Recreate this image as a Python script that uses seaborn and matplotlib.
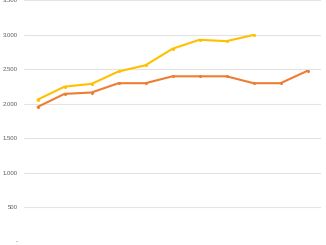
import numpy as np
import pandas as pd
import matplotlib
matplotlib.use("Agg")
import matplotlib.pyplot as plt
import seaborn as sns

categories = list(range(1, 12))
series_a = [2060, 2250, 2290, 2470, 2560, 2800, 2930, 2910, 3000]
series_b = [1955, 2145, 2165, 2300, 2300, 2400, 2400, 2400, 2300, 2300, 2480]
y_ticks = [0, 500, 1000, 1500, 2000, 2500, 3000, 3500]
y_labels = ["-", "500", "1.000", "1.500", "2.000", "2.500", "3.000", "3.500"]

sns.set_style("white")
plt.rcParams['font.family'] = ['Liberation Sans', 'DejaVu Sans']

df = pd.concat([
    pd.DataFrame({"cat": categories[:len(series_a)], "val": series_a, "s": "A"}),
    pd.DataFrame({"cat": categories[:len(series_b)], "val": series_b, "s": "B"}),
])

fig = plt.figure(figsize=(3.26, 2.45), dpi=100)
ax = fig.add_axes([24/326, 1 - 241.7/245, 297/326, 241.2/245])
sns.lineplot(data=df, x="cat", y="val", hue="s", palette={"A": "#FFC000", "B": "#ED7D31"},
             marker="o", markersize=2.2, markeredgewidth=0, linewidth=1.5, legend=False, ax=ax)
ax.set_xlim(0.5, 11.5)
ax.set_ylim(0, 3500)
ax.set_yticks(y_ticks)
ax.set_yticklabels(y_labels, fontsize=4.3, color="#595959")
ax.set_xticks([])
ax.set_xlabel("")
ax.set_ylabel("")
ax.tick_params(axis="y", length=0, pad=4.5)
ax.grid(axis="y", color="#E3E3E3", linewidth=0.8)
ax.set_axisbelow(True)
for s in ax.spines.values():
    s.set_visible(False)
fig.savefig("out.png", dpi=100)
